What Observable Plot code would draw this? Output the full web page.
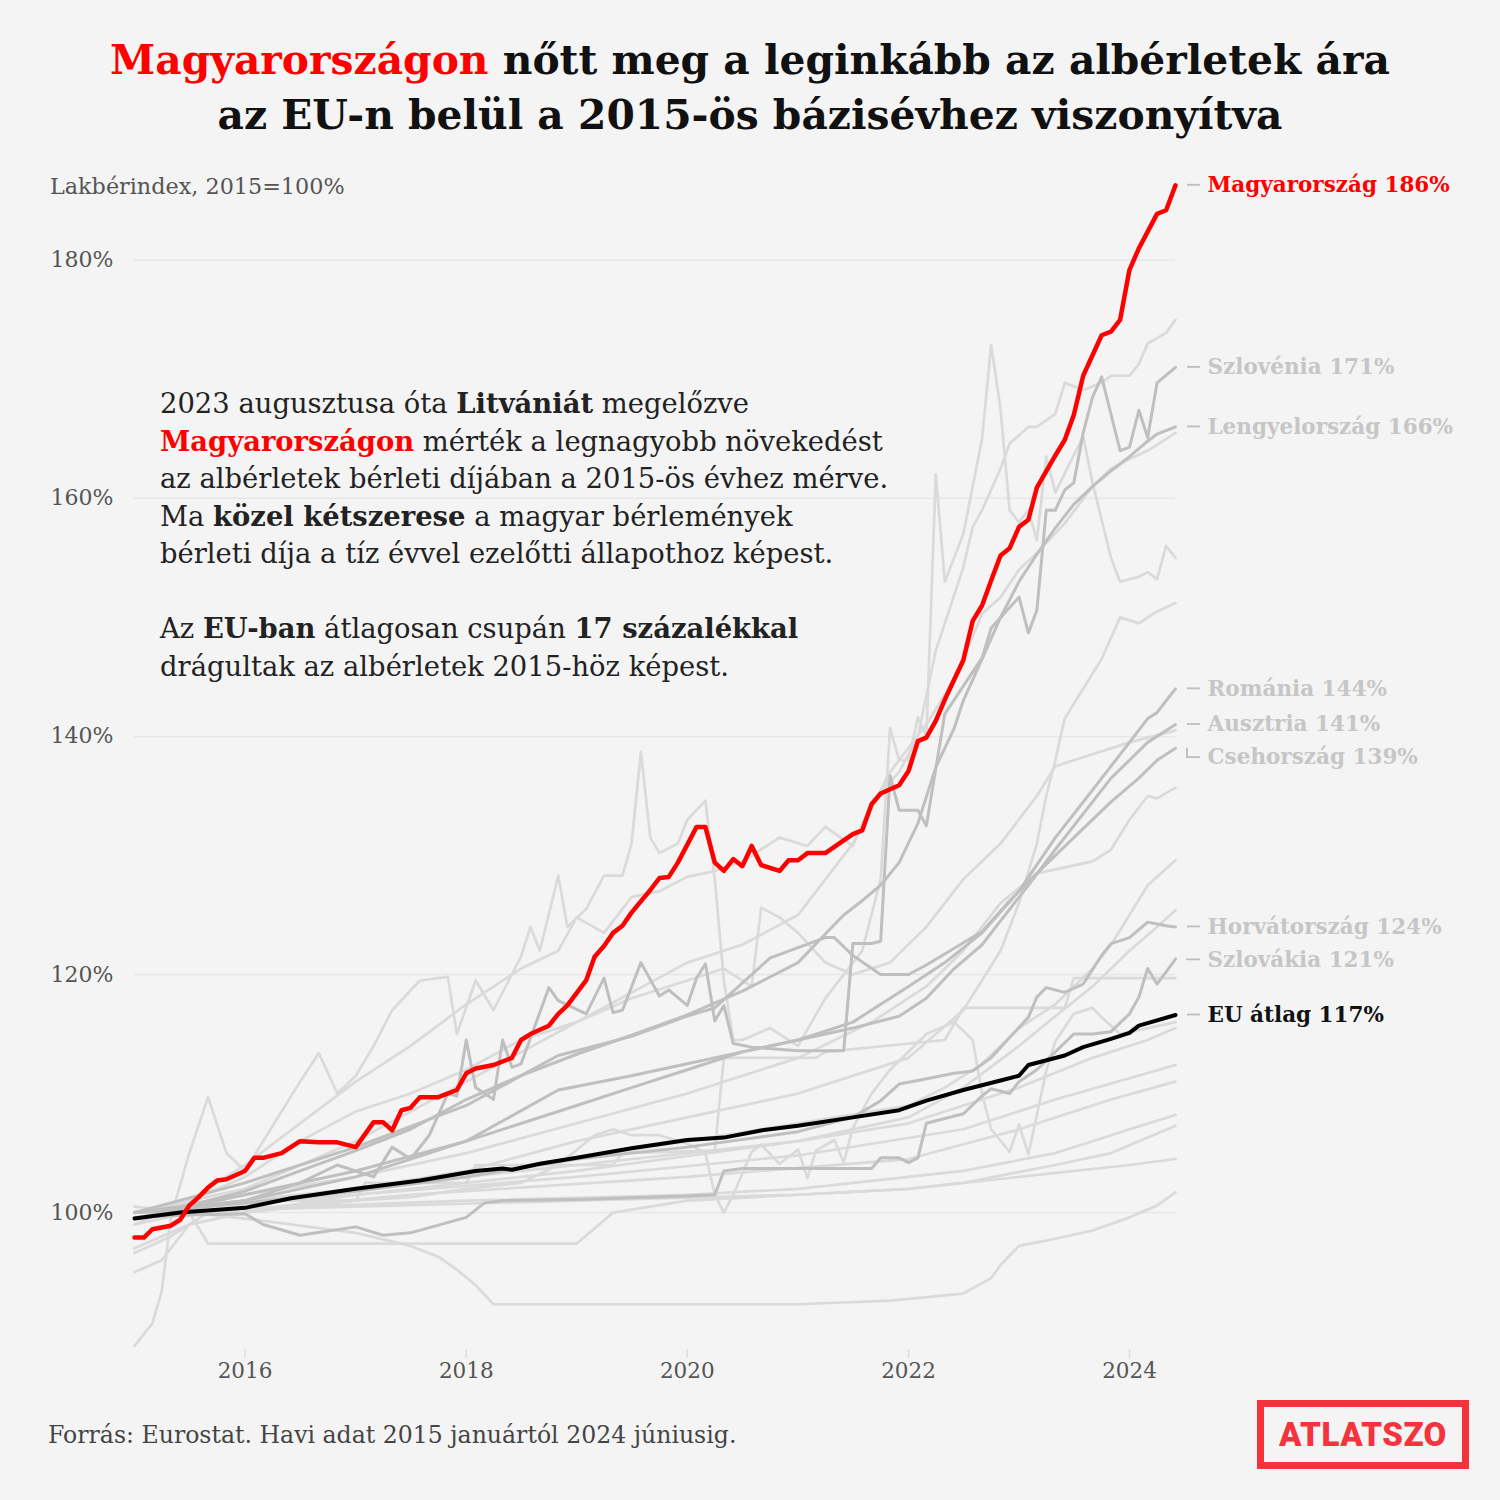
<!DOCTYPE html>
<html><head><meta charset="utf-8">
<script src="https://cdn.jsdelivr.net/npm/d3@7"></script>
<script src="https://cdn.jsdelivr.net/npm/@observablehq/plot@0.6"></script>
<style>
html,body{margin:0;padding:0;background:#f4f4f4;}
#page{position:relative;width:1500px;height:1500px;background:#f4f4f4;font-family:"DejaVu Serif",serif;overflow:hidden;color:#222}
#title{position:absolute;top:33px;left:0;width:1500px;text-align:center;font-weight:bold;font-size:40.8px;line-height:55px;color:#111}
#title .red{color:#ff0000}
#ytitle{position:absolute;left:50px;top:173px;font-size:22.3px;line-height:27px;color:#555}
#note{position:absolute;left:160px;top:385px;font-size:27.4px;line-height:37.5px;color:#222}
#note b{font-weight:bold}
#note .red{color:#ff0000}
#chart{position:absolute;left:0;top:150px}
#caption{position:absolute;left:48px;top:1420px;font-size:23.6px;line-height:30px;color:#444}
#logo{position:absolute;left:1257px;top:1400px;width:212px;height:69px;box-sizing:border-box;border:7px solid #f4333c;color:#f4333c;font-family:Roboto,"DejaVu Sans",sans-serif;font-weight:900;font-size:33px;display:flex;align-items:center;justify-content:center;letter-spacing:0.5px}
</style></head>
<body>
<div id="page">
  <div id="title"><span class="red">Magyarországon</span> nőtt meg a leginkább az albérletek ára<br>az EU-n belül a 2015-ös bázisévhez viszonyítva</div>
  <div id="ytitle">Lakbérindex, 2015=100%</div>
  <div id="chart"></div>
  <div id="note">2023 augusztusa óta <b>Litvániát</b> megelőzve<br><b class="red">Magyarországon</b> mérték a legnagyobb növekedést<br>az albérletek bérleti díjában a 2015-ös évhez mérve.<br>Ma <b>közel kétszerese</b> a magyar bérlemények<br>bérleti díja a tíz évvel ezelőtti állapothoz képest.<br><br>Az <b>EU-ban</b> átlagosan csupán <b>17 százalékkal</b><br>drágultak az albérletek 2015-höz képest.</div>
  <div id="caption">Forrás: Eurostat. Havi adat 2015 januártól 2024 júniusig.</div>
  <div id="logo">ATLATSZO</div>
</div>
<script>
// [month index since 2015-01, rent index %]
const hungary = [[0,97.9],[1,97.9],[2,98.6],[4,98.9],[5,99.4],[6,100.6],[7,101.3],[8,102.1],[9,102.7],[10,102.8],[12,103.5],[13,104.6],[14,104.6],[16,105.0],[18,106.0],[20,105.9],[22,105.9],[24,105.5],[26,107.6],[27,107.6],[28,106.9],[29,108.6],[30,108.8],[31,109.7],[33,109.7],[35,110.3],[36,111.7],[37,112.1],[39,112.4],[41,113.0],[42,114.5],[43,115.0],[45,115.7],[46,116.7],[47,117.4],[49,119.5],[50,121.5],[51,122.4],[52,123.5],[53,124.1],[54,125.2],[56,127.1],[57,128.1],[58,128.2],[59,129.4],[61,132.4],[62,132.4],[63,129.4],[64,128.7],[65,129.7],[66,129.1],[67,130.8],[68,129.2],[70,128.7],[71,129.6],[72,129.6],[73,130.2],[75,130.2],[78,131.8],[79,132.1],[80,134.3],[81,135.2],[83,135.9],[84,137.1],[85,139.6],[86,139.9],[87,141.3],[88,143.1],[90,146.4],[91,149.7],[92,151.0],[93,153.1],[94,155.2],[95,155.8],[96,157.6],[97,158.2],[98,160.9],[100,163.6],[101,164.9],[102,167.0],[103,170.3],[105,173.7],[106,174.0],[107,175.0],[108,179.2],[109,181.0],[111,183.9],[112,184.2],[113,186.3]];
const euAverage = [[0,99.5],[5,100],[12,100.4],[17,101.2],[24,102],[31,102.7],[37,103.5],[40,103.7],[41,103.6],[44,104.1],[48,104.6],[54,105.4],[60,106.1],[64,106.3],[68,106.9],[72,107.3],[78,108],[83,108.6],[86,109.4],[90,110.3],[94,111.1],[96,111.5],[97,112.4],[101,113.2],[103,113.9],[106,114.6],[108,115.1],[109,115.7],[113,116.6]];
const slovenia = [[0,100],[6,100.3],[12,101],[18,102.5],[22,104],[26,103],[28,105.5],[30,104.5],[32,106.5],[34,110],[35,109.8],[36,114.5],[37,110.5],[39,109.5],[40,114.5],[41,112.2],[42,112.5],[45,118.9],[46,117.8],[49,116.7],[51,119.7],[52,116.8],[53,117],[55,121],[57,118.2],[58,118.7],[60,117.4],[61,119.7],[62,120.9],[63,116.1],[64,117.4],[65,114.2],[67,113.9],[72,113.6],[77,113.6],[78,122.6],[80,122.6],[81,122.8],[82,136.7],[83,133.8],[85,133.8],[86,132.5],[88,141.9],[92,146.6],[93,149.1],[96,151.7],[97,148.7],[98,150.6],[99,159],[100,159],[101,160.7],[102,161.3],[103,165.5],[104,168.5],[105,170.2],[107,164],[108,164.3],[109,167.4],[110,165.1],[111,169.7],[113,171]];
const poland = [[0,100],[6,100.6],[12,101.8],[18,103.5],[24,105.2],[30,107],[36,109.5],[42,111.5],[48,113.3],[54,114.9],[60,116.6],[66,118.6],[72,121],[75,123.4],[77,125],[79,126.2],[81,127.5],[83,129.4],[85,132.7],[87,137.4],[89,140.7],[90,143],[92,146.5],[94,150],[96,153],[98,155.3],[100,157.5],[102,159.5],[104,161],[106,162.3],[108,163.5],[110,164.8],[111,165.4],[113,166]];
const romania = [[0,100],[12,101],[24,103],[36,106],[48,109],[54,110.5],[60,112],[66,113.5],[72,114.5],[78,116],[84,119],[88,121],[92,123.5],[96,127],[100,131.5],[104,135.5],[106,137.5],[108,139.5],[110,141.5],[111,142],[112,143],[113,144]];
const austria = [[0,99.5],[12,101.5],[24,103.5],[36,106],[46,110.3],[54,111.5],[60,112.5],[66,113.5],[72,114.5],[78,115.5],[83,116.5],[86,118],[89,120.5],[92,122.5],[94,124.5],[97,127.5],[100,130.5],[103,133.5],[106,136.5],[108,138],[110,139.5],[113,141]];
const czechia = [[0,100],[12,102.5],[24,105.5],[36,109],[46,113.2],[54,114.8],[60,116.5],[63,117.2],[69,121.4],[75,123.1],[76,123.1],[78,121.6],[81,120],[84,120],[86,120.8],[89,122.2],[92,123.6],[95,126.2],[98,128.5],[102,131.5],[106,134.5],[109,136.5],[111,138],[113,139]];
const croatia = [[0,100],[12,100.8],[24,101.8],[36,103],[48,104.5],[60,105.5],[72,106.8],[78,108],[81,109.4],[83,110.8],[85,111.1],[89,111.7],[91,111.9],[93,113],[95,114.7],[97,116.4],[98,118.1],[99,118.9],[101,118.5],[103,119.2],[105,121.6],[106,122.6],[108,123.1],[110,124.4],[112,124.1],[113,124]];
const slovakia = [[0,99.6],[6,99.8],[12,99.9],[14,99],[18,98.1],[24,98.8],[27,98.1],[30,98.3],[36,99.6],[38,100.8],[40,101],[48,101.1],[60,101.4],[63,101.5],[64,103.5],[66,103.7],[80,103.7],[81,104.6],[83,104.6],[84,104.2],[85,104.6],[86,107.5],[88,107.9],[90,108.3],[92,109.8],[93,110.4],[95,110],[96,111],[98,112],[100,113.5],[102,115],[104,115],[106,115.2],[108,116.7],[109,118.1],[110,120.5],[111,119.2],[113,121.3]];
// other EU countries (not labelled)
const lithuania = [[0,99],[6,101],[12,104],[18,107.5],[24,111],[30,114],[36,117.5],[42,120.5],[46,122],[48,124.8],[51,123.5],[54,126.5],[57,127],[60,128.2],[63,128.7],[66,129.5],[70,131.5],[73,130.8],[75,132.4],[78,130.8],[80,134.5],[83,137],[85,140],[87,147.2],[90,154.2],[91,157.6],[92,159],[94,162.5],[95,164.6],[97,166],[98,166],[100,167.1],[101,169.7],[103,169.1],[105,169.7],[106,170.3],[108,170.3],[109,171.3],[110,173],[112,173.9],[113,175]];
const estonia = [[0,88.8],[2,90.7],[3,93.4],[4,99.6],[6,105],[8,109.7],[10,105],[12,103.5],[14,106],[18,111],[20,113.4],[22,110],[24,111.5],[26,114],[28,117],[31,119.5],[34,119.8],[35,115],[37,119.5],[39,117],[42,121.5],[43,124],[44,122],[46,128.3],[47,124],[49,125.5],[51,128.3],[53,128.3],[54,131],[55,138.7],[56,131.5],[57,130.2],[59,131],[60,133],[62,134.6],[63,128],[64,119.5],[65,114.5],[66,114.5],[69,115.5],[72,114],[75,118],[79,122],[81,128],[82,140.7],[83,138],[84,138],[85,141.6],[86,140],[87,162],[88,153],[90,157],[92,165],[93,172.9],[94,167.5],[95,159],[96,158],[97,159],[98,156.5],[99,163.5],[100,160.5],[103,165.2],[104,161.3],[106,155],[107,153],[109,153.4],[110,153.8],[111,153.2],[112,156],[113,155]];
const latvia = [[0,100],[12,101],[24,102],[36,103.5],[48,106],[60,108],[72,110],[84,113],[90,117],[94,122],[96,126],[98,131],[99,135],[100,138],[101,141.5],[103,144],[105,146.5],[107,150],[109,149.5],[110,150],[111,150.5],[113,151.2]];
const ireland = [[0,100],[12,102],[24,106],[36,111],[48,116],[60,121],[66,122.5],[72,125],[78,131],[82,137],[86,141],[88,143.5],[90,146.5],[92,150.3],[94,151.7],[96,154],[98,155.4],[101,157.9],[104,161],[106,162.5],[108,163.3],[110,164],[111,164.5],[113,165.5]];
const bulgaria = [[0,100],[12,101.5],[24,103],[36,105],[48,107.5],[60,110],[72,113],[80,116],[86,119],[90,122],[94,126],[98,128.5],[101,129],[104,129.5],[106,130.5],[108,133],[110,135],[111,134.8],[113,135.7]];
const netherlands = [[0,100],[24,102],[48,104.5],[72,107.5],[84,109],[88,110.5],[92,112.5],[96,115.5],[100,117.5],[104,120.5],[106,122.5],[108,125],[110,127.5],[113,129.6]];
const greece = [[0,100],[11,100],[12,101],[24,101],[25,102.5],[36,102.5],[37,104],[52,104],[53,105],[63,105.2],[64,113],[74,113],[75,113.5],[88,114.5],[90,117.2],[101,117.2],[102,119.7],[113,119.7]];
const portugal = [[0,100],[24,101.5],[48,103.5],[72,106],[84,108],[90,110.5],[96,114],[100,116.5],[104,119],[108,122],[111,124],[113,125.4]];
const spain = [[0,100],[24,102],[48,104],[72,106],[84,107.5],[96,110.5],[104,113],[110,114.5],[113,115.5]];
const luxembourg = [[0,95],[3,96],[6,99],[12,100],[24,101.5],[48,103],[72,104.8],[90,107],[100,109.5],[113,112.4]];
const belgium = [[0,96.6],[4,98],[8,100],[30,101.5],[60,103],[84,104.5],[96,107],[106,109.5],[113,111]];
const france = [[0,100],[36,101],[60,101.5],[72,102],[90,103.5],[100,105],[104,106],[108,107],[113,108.2]];
const italy = [[0,100],[24,100.5],[48,101],[72,101.5],[84,102],[90,102.5],[100,104],[106,105],[110,106.3],[113,107.3]];
const cyprus = [[0,100.5],[12,99.5],[24,98.3],[30,97.2],[33,96.3],[35,95.2],[37,93.9],[39,92.3],[48,92.3],[72,92.3],[82,92.6],[90,93.2],[93,94.5],[94,95.6],[96,97.2],[100,97.8],[104,98.5],[108,99.6],[111,100.6],[113,101.7]];
const malta = [[0,97],[6,99],[12,100],[18,100.5],[24,101],[30,101.3],[36,102],[42,102.5],[46,104],[50,106.5],[52,107],[54,106.5],[57,106.5],[60,105.8],[62,105],[63,101.5],[64,100],[65,101.5],[67,105.1],[68,105.7],[70,104.1],[72,105.3],[73,102.9],[74,105.2],[76,106.1],[77,104.2],[78,107.1],[80,110],[82,112],[86,115],[89,116],[91,114.5],[92,110],[93,107],[95,105.1],[96,107.4],[97,104.9],[99,111.9],[100,114.4],[102,116.7],[104,117.2],[105,116.4],[107,115],[110,115.5],[113,116]];
const denmark = [[0,100],[6,101],[12,103],[18,106],[24,108.5],[30,110],[36,112],[42,114.5],[48,116],[54,118],[60,119.5],[64,120.5],[67,119],[68,125.6],[70,124.8],[72,123.5],[75,121],[78,120],[82,121],[86,124],[90,128],[94,131],[98,135],[100,137.5],[104,138.5],[108,139.5],[113,140.5]];
const finland = [[0,99],[6,100],[8,97.4],[48,97.4],[52,100],[60,101],[72,101.5],[84,102],[96,103],[108,104],[113,104.5]];

const labelled = [
  {name: "Magyarország", data: hungary, color: "#ff0000"},
  {name: "Szlovénia", data: slovenia, color: "#c6c6c6"},
  {name: "Lengyelország", data: poland, color: "#c6c6c6"},
  {name: "Románia", data: romania, color: "#c6c6c6"},
  {name: "Ausztria", data: austria, color: "#c6c6c6"},
  {name: "Csehország", data: czechia, color: "#c6c6c6"},
  {name: "Horvátország", data: croatia, color: "#c6c6c6"},
  {name: "Szlovákia", data: slovakia, color: "#c6c6c6"},
  {name: "EU átlag", data: euAverage, color: "#111111"}
];
const darkSeries = {slovenia, poland, romania, austria, czechia, croatia, slovakia};
const lightSeries = {lithuania, estonia, latvia, ireland, bulgaria, netherlands, greece, portugal, spain, luxembourg, belgium, france, italy, cyprus, malta, denmark, finland};
const yTicks = [100, 120, 140, 160, 180];
const yearTicks = [2016, 2018, 2020, 2022, 2024];

const toDate = m => new Date(Date.UTC(2015, m, 1));
const rows = (name, arr) => arr.map(([m, v]) => ({name, date: toDate(m), value: v}));
const lightRows = Object.entries(lightSeries).flatMap(([k, a]) => rows(k, a));
const darkRows = Object.entries(darkSeries).flatMap(([k, a]) => rows(k, a));
const huRows = rows("hu", hungary);
const euRows = rows("eu", euAverage);

// end labels with simple vertical dodge
const pxPerPct = 11.904;
const gap = 33 / pxPerPct;
const labels = labelled.map(s => {
  const last = s.data[s.data.length - 1];
  return {name: s.name, color: s.color, date: toDate(last[0]), end: last[1], text: `${s.name} ${Math.round(last[1])}%`};
}).sort((a, b) => b.end - a.end);
let prev = Infinity;
for (const l of labels) { l.labelValue = Math.min(l.end, prev - gap); prev = l.labelValue; }

const chart = Plot.plot({
  width: 1500, height: 1239,
  marginLeft: 134, marginRight: 325, marginTop: 30, marginBottom: 40,
  style: {background: "transparent", fontFamily: "DejaVu Serif", overflow: "visible"},
  x: {type: "utc", domain: [toDate(0), toDate(113)]},
  y: {domain: [88.5, 186.7], axis: null},
  color: {type: "identity"},
  marks: [
    Plot.gridY(yTicks, {stroke: "#e6e6e6", strokeOpacity: 1, strokeWidth: 1.5}),
    Plot.text(yTicks, {y: d => d, frameAnchor: "left", dx: -84, textAnchor: "start", text: d => d + "%", fontSize: 22, fill: "#555"}),
    Plot.axisX(yearTicks.map(y => new Date(Date.UTC(y, 0, 1))), {tickSize: 9, tickPadding: 4, tickFormat: "%Y", fontSize: 21.5, color: "#555"}),
    Plot.line(lightRows, {x: "date", y: "value", z: "name", stroke: "#dadada", strokeWidth: 2.7, strokeLinejoin: "round"}),
    Plot.line(darkRows, {x: "date", y: "value", z: "name", stroke: "#bfbfbf", strokeWidth: 3, strokeLinejoin: "round"}),
    Plot.line(euRows, {x: "date", y: "value", stroke: "#000", strokeWidth: 4, strokeLinejoin: "round"}),
    Plot.line(huRows, {x: "date", y: "value", stroke: "#ff0000", strokeWidth: 4.5, strokeLinejoin: "round"}),
    Plot.text(labels, {x: "date", y: "labelValue", text: "text", dx: 32, textAnchor: "start", lineAnchor: "middle", fill: "color", fontWeight: "bold", fontSize: 21.5})
  ]
});
document.getElementById("chart").appendChild(chart);

// style x tick marks lighter
d3.select(chart).selectAll('[aria-label="x-axis tick"]').attr("stroke", "#dedede").attr("stroke-width", 1.5);
d3.select(chart).selectAll('[aria-label="x-axis tick label"]').attr("fill", "#555");

// connectors from line ends to labels, placed with Plot's scales
const sx = chart.scale("x"), sy = chart.scale("y");
const g = d3.select(chart).append("g").attr("fill", "none").attr("stroke", "#bdbdbd").attr("stroke-width", 1.8);
for (const l of labels) {
  const x0 = sx.apply(l.date) + 12, y0 = sy.apply(l.end), y1 = sy.apply(l.labelValue);
  g.append("path").attr("d", `M${x0},${y0}V${y1}H${x0 + 13}`);
}
</script>
</body></html>
